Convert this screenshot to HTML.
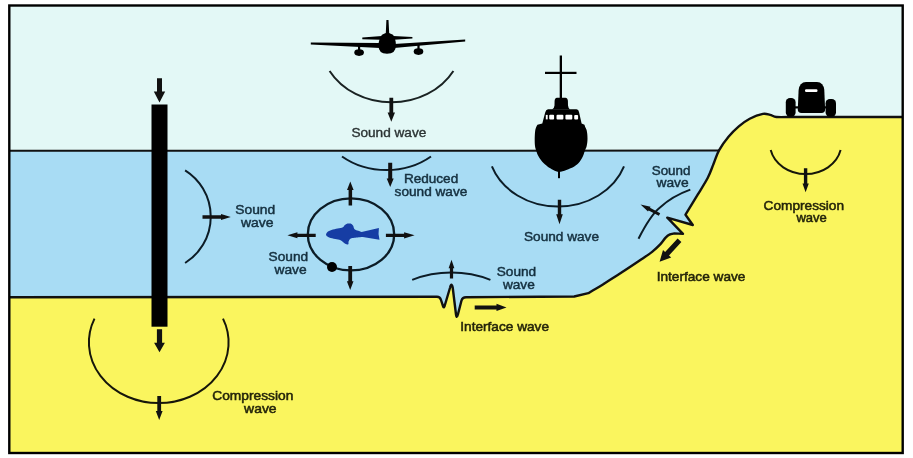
<!DOCTYPE html>
<html><head><meta charset="utf-8"><style>
html,body{margin:0;padding:0;background:#fff;width:913px;height:458px;overflow:hidden}
svg{display:block;filter:blur(0.35px)}
</style></head><body>
<svg width="913" height="458" viewBox="0 0 913 458">
<rect x="9" y="5.5" width="894" height="447" fill="#e3f8f6"/>
<path d="M9,150.8 L718.6,150.6 C718.1,152.6 715.5,159.2 713.6,163.8 C711.7,168.4 710.4,172.7 707.8,177.8 C705.2,182.9 699.6,191.5 698.0,194.2 L685.5,214.7 L692.8,225 L667.3,217.7 L683,233.9 L674.3,233.4 C673.5,233.6 670.9,233.8 669.4,234.6 C667.9,235.3 666.9,236.3 665.4,237.9 C663.9,239.5 662.4,242.1 660.2,244.4 C658.0,246.7 655.8,248.9 652.4,251.6 C649.0,254.3 645.0,256.9 639.6,260.6 C634.2,264.3 626.0,269.7 620.0,273.6 C614.0,277.5 609.0,280.6 603.7,283.9 C598.4,287.2 591.0,291.6 588.4,293.2 L574.2,296.5 L574,330 L9,330 Z" fill="#a8dcf4"/>
<path d="M9,297.2 L437,296.8 Q440,296.8 441,300 L443,306 Q443.6,308.8 444.6,306 L450.1,287.5 Q451.4,282 452.7,287.5 L456,314.5 Q456.7,319.2 457.9,314.5 L461.5,300.5 Q462.5,297.2 466,297.2 L574.2,296.5 L588.4,293.2 C591.0,291.6 598.4,287.2 603.7,283.9 C609.0,280.6 614.0,277.5 620.0,273.6 C626.0,269.7 634.2,264.3 639.6,260.6 C645.0,256.9 649.0,254.3 652.4,251.6 C655.8,248.9 658.0,246.7 660.2,244.4 C662.4,242.1 663.9,239.5 665.4,237.9 C666.9,236.3 667.9,235.3 669.4,234.6 C670.9,233.8 673.5,233.6 674.3,233.4 L683,233.9 L667.3,217.7 L692.8,225 L685.5,214.7 L698,194.2 C699.6,191.5 705.2,182.9 707.8,177.8 C710.4,172.7 711.7,168.4 713.6,163.8 C715.5,159.2 716.5,154.9 719.0,150.4 C721.5,145.9 725.2,140.8 728.5,136.8 C731.8,132.8 735.3,129.4 738.8,126.4 C742.3,123.4 745.7,120.8 749.7,118.7 C753.7,116.6 759.5,114.5 762.9,113.9 C766.3,113.3 767.8,114.4 770.1,114.9 C772.4,115.4 773.2,116.7 776.5,117.0 C779.8,117.3 787.8,117.0 790.0,117.0 L903,117 L903,452 L9,452 Z" fill="#faf55e"/>
<line x1="9" y1="150.8" x2="719" y2="150.6" stroke="#111" stroke-width="2"/>
<path d="M9,297.2 L437,296.8 Q440,296.8 441,300 L443,306 Q443.6,308.8 444.6,306 L450.1,287.5 Q451.4,282 452.7,287.5 L456,314.5 Q456.7,319.2 457.9,314.5 L461.5,300.5 Q462.5,297.2 466,297.2 L574.2,296.5 L588.4,293.2 C591.0,291.6 598.4,287.2 603.7,283.9 C609.0,280.6 614.0,277.5 620.0,273.6 C626.0,269.7 634.2,264.3 639.6,260.6 C645.0,256.9 649.0,254.3 652.4,251.6 C655.8,248.9 658.0,246.7 660.2,244.4 C662.4,242.1 663.9,239.5 665.4,237.9 C666.9,236.3 667.9,235.3 669.4,234.6 C670.9,233.8 673.5,233.6 674.3,233.4 L683,233.9 L667.3,217.7 L692.8,225 L685.5,214.7 L698,194.2 C699.6,191.5 705.2,182.9 707.8,177.8 C710.4,172.7 711.7,168.4 713.6,163.8 C715.5,159.2 716.5,154.9 719.0,150.4 C721.5,145.9 725.2,140.8 728.5,136.8 C731.8,132.8 735.3,129.4 738.8,126.4 C742.3,123.4 745.7,120.8 749.7,118.7 C753.7,116.6 759.5,114.5 762.9,113.9 C766.3,113.3 767.8,114.4 770.1,114.9 C772.4,115.4 773.2,116.7 776.5,117.0 C779.8,117.3 787.8,117.0 790.0,117.0 L903,117" fill="none" stroke="#111" stroke-width="2.4" stroke-linejoin="round"/>
<rect x="9.3" y="5.5" width="893.4" height="447.5" fill="none" stroke="#000" stroke-width="2.4"/>
<rect x="151.5" y="104.5" width="16" height="222.2" fill="#000"/>
<polygon points="157.0,78.3 157.0,91.4 153.8,91.4 159.5,102.4 165.2,91.4 162.0,91.4 162.0,78.3" fill="#111"/>
<polygon points="156.9,329.2 156.9,342.8 154.1,342.8 159.5,352.3 164.9,342.8 162.1,342.8 162.1,329.2" fill="#111"/>
<path d="M185.1,170.3 A54.7,54.7 0 0 1 185.1,263" fill="none" stroke="#0c1c26" stroke-width="2"/>
<polygon points="202.5,218.7 221.0,218.7 221.0,220.1 230.8,217.0 221.0,213.9 221.0,215.3 202.5,215.3" fill="#111"/>
<path d="M94.5,318.6 A69.85,60.7 0 1 0 223,318.6" fill="none" stroke="#16160a" stroke-width="2"/>
<polygon points="157.3,395.9 157.3,411.0 155.8,411.0 159.2,420.0 162.6,411.0 161.1,411.0 161.1,395.9" fill="#111"/>
<g fill="#000"><path d="M386.4,19.9 L388.5,19.9 L389.2,33.2 L393.2,36 L412.4,36.9 L412.4,38.4 L394,39.8 L381,39.8 L362.3,39.3 L362.3,37.4 L382,36 L385.8,33.2 Z"/><path d="M382,34.7 Q387,31.5 393,34.7 Q396,39 395.9,45 Q396,53.8 387,53.8 Q378.3,53.8 378.5,45 Q378.6,39 382,34.7 Z"/><path d="M310.8,42.6 L380,43 L380,47.9 L310.8,44.5 Z"/><path d="M465.2,39.6 L394,44 L394,47.9 L465.2,41.6 Z"/><ellipse cx="359.1" cy="52.6" rx="4.8" ry="3.3"/><rect x="358" y="45" width="2.2" height="6"/><ellipse cx="418.5" cy="51.6" rx="4.8" ry="3.3"/><rect x="417.4" y="44" width="2.2" height="6"/></g>
<path d="M329.6,71 A70.9,61.2 0 0 0 453.4,71" fill="none" stroke="#1a2222" stroke-width="2"/>
<polygon points="389.4,97.7 389.4,112.6 387.6,112.6 391.3,121.8 395.0,112.6 393.2,112.6 393.2,97.7" fill="#111"/>
<path d="M342,156.5 A70.1,59.9 0 0 0 431,156.5" fill="none" stroke="#0c1c26" stroke-width="2"/>
<polygon points="388.2,162.8 388.2,178.6 386.7,178.6 390.2,187.0 393.7,178.6 392.2,178.6 392.2,162.8" fill="#111"/>
<ellipse cx="351" cy="234.4" rx="43.2" ry="36" fill="none" stroke="#0c1c26" stroke-width="2.3"/>
<polygon points="352.1,205.6 352.1,190.0 353.6,190.0 350.3,181.5 347.0,190.0 348.6,190.0 348.6,205.6" fill="#111"/>
<polygon points="348.3,265.9 348.3,281.2 346.9,281.2 350.2,290.0 353.5,281.2 352.1,281.2 352.1,265.9" fill="#111"/>
<polygon points="315.7,233.7 297.4,233.7 297.4,232.3 287.4,235.3 297.4,238.3 297.4,237.0 315.7,237.0" fill="#111"/>
<polygon points="385.9,237.0 404.1,237.0 404.1,238.4 414.6,235.3 404.1,232.2 404.1,233.7 385.9,233.7" fill="#111"/>
<circle cx="332" cy="267" r="5" fill="#000"/>
<path fill="#163da4" d="M326.0,234.6 C326.2,234.2 326.3,233.0 327.2,232.2 C328.1,231.4 329.8,230.6 331.5,230.0 C333.2,229.4 335.7,229.0 337.6,228.5 C339.5,228.0 341.7,227.8 342.9,227.2 C344.1,226.6 343.8,225.8 344.6,225.2 C345.4,224.6 346.5,223.9 347.5,223.6 C348.5,223.3 349.7,223.3 350.6,223.6 C351.5,223.9 352.3,224.6 353.0,225.5 C353.7,226.4 353.7,228.4 354.6,229.3 C355.5,230.2 357.0,230.4 358.2,230.8 C359.4,231.2 361.0,231.8 361.6,232.0 L378.9,227.9 Q377.9,234 379.5,239.8 L362.8,237.0 C361.4,237.1 356.4,237.5 354.4,237.8 C352.4,238.1 351.8,238.0 350.8,238.6 C349.8,239.2 349.0,240.6 348.6,241.5 C348.2,242.4 348.9,243.9 348.3,244.3 C347.7,244.7 346.5,244.5 345.2,243.8 C343.9,243.1 342.2,241.0 340.6,240.2 C339.0,239.4 337.2,239.4 335.3,239.0 C333.4,238.6 330.7,238.0 329.2,237.5 C327.7,237.0 327.0,236.3 326.5,235.8 C326.0,235.3 326.1,234.8 326.0,234.6 Z"/>
<g fill="#000"><rect x="559.7" y="55.5" width="2.3" height="43"/><rect x="545" y="71.8" width="31.5" height="2.2"/><path d="M557,97.8 L565.4,97.8 Q567.8,98 567.9,101 L568,105.5 Q568.3,108.3 570,109.5 L552,109.5 Q554.3,108.3 554.5,105.5 L554.6,101 Q554.7,98 557,97.8 Z"/><path d="M548,109.3 L576.5,109.3 Q578.6,109.6 579,112 L581.6,123.5 L584.5,124.8 L585,127 L537,127 L537.4,124.8 L542.3,123.5 L545.2,112.5 Q545.8,109.6 548,109.3 Z"/><path d="M537.1,125.2 L583.9,125.2 C584.4,126.0 586.0,127.8 586.6,130.0 C587.2,132.2 587.5,135.8 587.5,138.5 C587.5,141.2 587.2,143.9 586.7,146.0 C586.2,148.1 585.4,149.2 584.8,151.0 C584.1,152.8 583.8,154.5 582.8,156.5 C581.8,158.5 580.0,161.4 578.6,163.1 C577.2,164.8 576.3,165.3 574.3,166.4 C572.3,167.5 568.9,169.0 566.4,169.9 C563.9,170.8 561.2,171.8 559.0,171.8 C556.8,171.8 555.2,170.8 553.3,169.9 C551.4,169.0 549.1,167.5 547.5,166.4 C545.9,165.3 545.0,164.8 543.5,163.1 C542.0,161.4 539.8,158.5 538.6,156.5 C537.4,154.5 536.9,152.8 536.3,151.0 C535.7,149.2 535.3,148.1 535.0,146.0 C534.7,143.9 534.7,141.2 534.7,138.5 C534.8,135.8 534.9,132.2 535.3,130.0 C535.7,127.8 536.8,126.0 537.1,125.2 Z"/><rect x="558" y="170" width="2" height="8.2"/></g>
<g fill="#fff"><rect x="545.8" y="114.9" width="1.9" height="4.5"/><rect x="549.2" y="114.7" width="4.9" height="4.8" rx="1"/><rect x="556.5" y="114.7" width="6.9" height="4.8" rx="1"/><rect x="565.4" y="114.7" width="6.9" height="4.8" rx="1"/><rect x="574.2" y="115" width="3.9" height="4.6" rx="1"/></g>
<path d="M491.9,166.4 A70,60 0 0 0 624,166.4" fill="none" stroke="#0c1c26" stroke-width="2"/>
<polygon points="557.8,199.8 557.8,214.3 556.2,214.3 559.5,224.3 562.8,214.3 561.2,214.3 561.2,199.8" fill="#111"/>
<path d="M638.5,238.7 C646,224 653,213 660,207.5 C668,200 678,194 690.3,189.6" fill="none" stroke="#0c1c26" stroke-width="2"/>
<polygon points="660.2,213.2 650.0,207.8 650.6,206.7 640.5,204.4 648.0,211.5 648.6,210.4 658.8,215.8" fill="#111"/>
<polygon points="677.6,238.5 665.1,251.9 663.0,249.9 659.6,261.8 671.2,257.5 669.0,255.5 681.4,242.1" fill="#111"/>
<g fill="#000"><path d="M806,81.9 L817,81.9 Q823.5,82.2 824.3,90 L825.1,109.5 Q825.1,112.9 821.5,112.9 L801.5,112.9 Q797.8,112.9 797.8,109.5 L798.6,90 Q799.5,82.2 806,81.9 Z"/><rect x="785.8" y="98.1" width="9.8" height="18.7" rx="4.2"/><rect x="825.6" y="99.1" width="10.4" height="17.7" rx="4.2"/><rect x="794" y="106.3" width="33" height="2.2"/></g><rect x="805" y="89.3" width="12.5" height="2.6" rx="1.2" fill="#fff"/>
<path d="M770.7,150.1 A35.8,30.6 0 0 0 840.6,150.1" fill="none" stroke="#16160a" stroke-width="2"/>
<polygon points="803.9,168.3 803.9,183.6 802.5,183.6 805.6,192.3 808.8,183.6 807.3,183.6 807.3,168.3" fill="#111"/>
<path d="M412.2,279.9 A93.6,80 0 0 1 490.4,279.9" fill="none" stroke="#0c1c26" stroke-width="2"/>
<polygon points="453.1,278.6 453.1,268.3 454.4,268.3 451.5,259.8 448.6,268.3 449.9,268.3 449.9,278.6" fill="#111"/>
<polygon points="474.7,309.4 496.5,309.4 496.5,311.1 506.5,307.4 496.5,303.7 496.5,305.4 474.7,305.4" fill="#111"/>
<g font-family="Liberation Sans, sans-serif" font-size="12.4" stroke-width="0.35"><text x="235.3" y="213.7" textLength="39.9" lengthAdjust="spacingAndGlyphs" fill="#15303f" stroke="#15303f" stroke-width="0.45">Sound</text><text x="241.0" y="226.8" textLength="32.5" lengthAdjust="spacingAndGlyphs" fill="#15303f" stroke="#15303f" stroke-width="0.45">wave</text><text x="351.4" y="136.6" textLength="74.9" lengthAdjust="spacingAndGlyphs" fill="#2b3333" stroke="#2b3333" stroke-width="0.35">Sound wave</text><text x="403.9" y="183.0" textLength="54.3" lengthAdjust="spacingAndGlyphs" fill="#15303f" stroke="#15303f" stroke-width="0.45">Reduced</text><text x="394.6" y="196.1" textLength="72.7" lengthAdjust="spacingAndGlyphs" fill="#15303f" stroke="#15303f" stroke-width="0.45">sound wave</text><text x="268.6" y="260.6" textLength="39.6" lengthAdjust="spacingAndGlyphs" fill="#15303f" stroke="#15303f" stroke-width="0.45">Sound</text><text x="274.5" y="273.9" textLength="32.2" lengthAdjust="spacingAndGlyphs" fill="#15303f" stroke="#15303f" stroke-width="0.45">wave</text><text x="524.0" y="240.6" textLength="75.0" lengthAdjust="spacingAndGlyphs" fill="#15303f" stroke="#15303f" stroke-width="0.45">Sound wave</text><text x="651.7" y="174.8" textLength="38.8" lengthAdjust="spacingAndGlyphs" fill="#15303f" stroke="#15303f" stroke-width="0.45">Sound</text><text x="656.5" y="187.4" textLength="32.2" lengthAdjust="spacingAndGlyphs" fill="#15303f" stroke="#15303f" stroke-width="0.45">wave</text><text x="763.6" y="209.6" textLength="80.4" lengthAdjust="spacingAndGlyphs" fill="#24240a" stroke="#24240a" stroke-width="0.5">Compression</text><text x="796.4" y="222.1" textLength="30.4" lengthAdjust="spacingAndGlyphs" fill="#24240a" stroke="#24240a" stroke-width="0.5">wave</text><text x="656.7" y="280.6" textLength="88.7" lengthAdjust="spacingAndGlyphs" fill="#24240a" stroke="#24240a" stroke-width="0.5">Interface wave</text><text x="496.7" y="275.6" textLength="39.5" lengthAdjust="spacingAndGlyphs" fill="#15303f" stroke="#15303f" stroke-width="0.45">Sound</text><text x="502.9" y="288.7" textLength="31.9" lengthAdjust="spacingAndGlyphs" fill="#15303f" stroke="#15303f" stroke-width="0.45">wave</text><text x="460.3" y="330.6" textLength="88.7" lengthAdjust="spacingAndGlyphs" fill="#24240a" stroke="#24240a" stroke-width="0.5">Interface wave</text><text x="212.3" y="400.2" textLength="81.0" lengthAdjust="spacingAndGlyphs" fill="#24240a" stroke="#24240a" stroke-width="0.5">Compression</text><text x="244.1" y="413.4" textLength="32.5" lengthAdjust="spacingAndGlyphs" fill="#24240a" stroke="#24240a" stroke-width="0.5">wave</text></g>
</svg>
</body></html>
